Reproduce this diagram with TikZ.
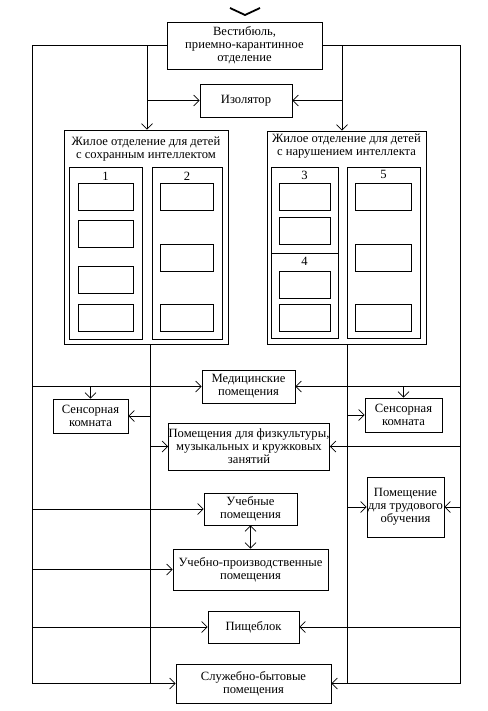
\documentclass[tikz,border=0pt]{standalone}
\usepackage{fontspec}
\setmainfont{Liberation Serif}
\usetikzlibrary{positioning}
\usetikzlibrary{arrows.meta}

\tikzset{
  room/.style={draw, rectangle, inner sep=0pt, align=center, line width=0.9pt},
  cell/.style={draw, rectangle, inner sep=0pt, minimum height=27pt, line width=0.9pt},
  wire/.style={line width=0.7pt},
  link/.style={wire, -{Straight Barb[length=5.5pt,width=11pt]}},
  twolink/.style={wire, {Straight Barb[length=5.5pt,width=11pt]}-{Straight Barb[length=5.5pt,width=11pt]}}
}

\begin{document}
\begin{tikzpicture}[x=1pt, y=-1pt, font=\fontsize{12.6}{13}\selectfont]
\useasboundingbox (0,0) rectangle (487,711);

% entrance mark
\draw[line width=1.8pt] (230,8) -- (245,15) -- (260,8);

\node[room, minimum width=155pt, minimum height=47pt] (vest) at (244.5,45.5)
  {Вестибюль,\\приемно-карантинное\\отделение};
\node[room, minimum width=92pt, minimum height=33pt] (izo) at (246,100.5) {Изолятор};

% living block for children with intact intellect
\node[room, minimum width=164pt, minimum height=214pt] (livA) at (146,237) {};
\node[below=7pt of livA.north, align=center, inner sep=0pt] (titA)
  {Жилое отделение для детей\\с сохранным интеллектом};
\node[room, minimum width=73pt, minimum height=172pt] (colA) at (105.5,253) {};
\node[room, minimum width=70pt, minimum height=172pt] (colB) at (187,253) {};
\node[below=5pt of colA.north, inner sep=0pt] (numA) {1};
\node[below=5pt of colB.north, inner sep=0pt] (numB) {2};
\foreach \y [count=\i] in {196.5,234,279.5,318}
  \node[cell, minimum width=55pt] (a\i) at (105.5,\y) {};
\foreach \y [count=\i] in {196.5,257.5,318}
  \node[cell, minimum width=53pt] (b\i) at (186.5,\y) {};

% living block for children with impaired intellect
\node[room, minimum width=159pt, minimum height=213pt] (livB) at (346.5,237.5) {};
\node[below=3pt of livB.north, align=center, inner sep=0pt] (titB)
  {Жилое отделение для детей\\с нарушением интеллекта};
\node[room, minimum width=67pt, minimum height=86pt] (colC) at (304.5,210) {};
\node[room, minimum width=67pt, minimum height=85pt] (colD) at (304.5,295.5) {};
\node[room, minimum width=73pt, minimum height=171pt] (colE) at (383.5,252.5) {};
\node[below=4pt of colC.north, inner sep=0pt] (numC) {3};
\node[below=4pt of colD.north, inner sep=0pt] (numD) {4};
\node[below=4pt of colE.north, inner sep=0pt] (numE) {5};
\foreach \y [count=\i] in {196.5,230.5}
  \node[cell, minimum width=51pt] (c\i) at (304.5,\y) {};
\foreach \y [count=\i] in {285,318}
  \node[cell, minimum width=51pt] (d\i) at (304.5,\y) {};
\foreach \y [count=\i] in {196.5,257.5,317.5}
  \node[cell, minimum width=56pt] (e\i) at (383,\y) {};

% common rooms
\node[room, minimum width=93pt, minimum height=33pt] (med) at (248.5,386.5)
  {Медицинские\\помещения};
\node[room, minimum width=75pt, minimum height=34pt] (sensA) at (90.5,416)
  {Сенсорная\\комната};
\node[room, minimum width=77pt, minimum height=34pt] (sensB) at (403.5,415)
  {Сенсорная\\комната};
\node[room, minimum width=156pt, minimum height=47pt] (fiz) at (249,446.5)
  {Помещения для физкультуры,\\музыкальных и кружковых\\занятий};
\node[room, minimum width=93pt, minimum height=32pt] (uch) at (250.5,509)
  {Учебные\\помещения};
\node[room, minimum width=77pt, minimum height=60pt] (trud) at (405.5,507)
  {Помещение\\для трудового\\обучения};
\node[room, minimum width=155pt, minimum height=41pt] (uchp) at (250.5,569.5)
  {Учебно-производственные\\помещения};
\node[room, minimum width=91pt, minimum height=32pt] (pish) at (253.5,627) {Пищеблок};
\node[room, minimum width=155pt, minimum height=39pt] (sluzh) at (253.5,683.5)
  {Служебно-бытовые\\помещения};

% trunk lines
\coordinate (oL) at (32,45.5);
\coordinate (oR) at (460,45.5);
\coordinate (iL) at (147,45.5);
\coordinate (iR) at (342,45.5);
\coordinate (lL) at (150,344);
\coordinate (lR) at (347,344);

\draw[link] (vest.west) -- (oL) -- (oL |- sluzh.west) -- (sluzh.west);
\draw[link] (vest.east) -- (oR) -- (oR |- sluzh.east) -- (sluzh.east);
\draw[link] (iL) -- (iL |- livA.north);
\draw[link] (iR) -- (iR |- livB.north);
\draw[link] (iL |- izo.west) -- (izo.west);
\draw[link] (iR |- izo.east) -- (izo.east);
\draw[wire] (lL) -- (lL |- sluzh.west);
\draw[wire] (lR) -- (lR |- sluzh.east);

% branches
\draw[link] (oL |- med.west) -- (med.west);
\draw[link] (oR |- med.east) -- (med.east);
\draw[link] (sensA.north |- med.west) -- (sensA.north);
\draw[link] (sensB.north |- med.east) -- (sensB.north);
\draw[link] (lL |- sensA.east) -- (sensA.east);
\draw[link] (lR |- sensB.west) -- (sensB.west);
\draw[link] (lL |- fiz.west) -- (fiz.west);
\draw[link] (oR |- fiz.east) -- (fiz.east);
\draw[link] (oL |- uch.west) -- (uch.west);
\draw[link] (lR |- trud.west) -- (trud.west);
\draw[link] (oR |- trud.east) -- (trud.east);
\draw[twolink] (uch.south) -- (uchp.north);
\draw[link] (oL |- uchp.west) -- (uchp.west);
\draw[link] (oL |- pish.west) -- (pish.west);
\draw[link] (oR |- pish.east) -- (pish.east);
\end{tikzpicture}
\end{document}
